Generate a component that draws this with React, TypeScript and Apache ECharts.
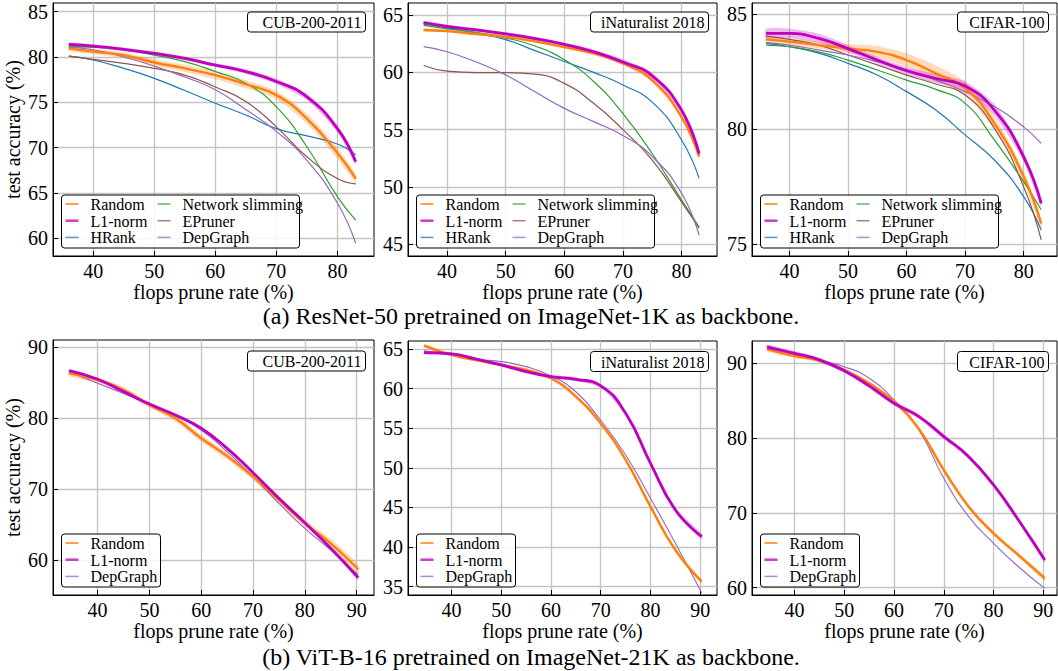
import React, { useEffect, useRef } from "react";
import * as echarts from "echarts";

const FONT = "'Liberation Serif', 'Times New Roman', Times, serif";

// ---------- data ----------
const X_RESNET = [36, 40, 45, 50, 55, 60, 65, 70, 75, 80, 83];
const X_VIT = [34.5, 40, 45, 50, 55, 60, 65, 70, 75, 80, 85, 90.3];

const X_TICKS_A = [40, 50, 60, 70, 80];
const X_TICKS_B = [40, 50, 60, 70, 80, 90];

const METHODS_A = ["HRank", "Network slimming", "EPruner", "DepGraph", "Random", "L1-norm"];
const METHODS_B = ["DepGraph", "Random", "L1-norm"];
const LEGEND_A = ["Random", "L1-norm", "HRank", "Network slimming", "EPruner", "DepGraph"];
const LEGEND_B = ["Random", "L1-norm", "DepGraph"];

// (a) ResNet-50, CUB-200-2011
const CUB_A_RANDOM = [80.96, 80.6, 80.2, 79.4, 78.75, 78.0, 77.0, 75.8, 73.2, 69.4, 66.6];
const CUB_A_L1 = [81.4, 81.2, 80.85, 80.4, 79.85, 79.1, 78.4, 77.3, 75.6, 72.1, 68.45];
const CUB_A_HRANK = [80.1, 79.67, 78.75, 77.65, 76.3, 74.9, 73.6, 72.1, 71.3, 70.4, 69.2];
const CUB_A_NETSLIM = [81.15, 81.1, 80.8, 80.2, 79.5, 78.4, 77.1, 74.5, 70.1, 64.6, 62.0];
const CUB_A_EPRUNER = [80.1, 79.75, 79.3, 78.75, 78.0, 76.7, 75.1, 72.3, 69.0, 66.6, 66.0];
const CUB_A_DEPGRAPH = [81.1, 80.8, 80.0, 79.0, 77.8, 76.4, 74.2, 71.8, 68.6, 63.9, 59.45];
const CUB_A_RANDOM_BAND = [0.3, 0.3, 0.3, 0.35, 0.4, 0.45, 0.45, 0.45, 0.55, 0.6, 0.45];
const CUB_A_L1_BAND = [0.2, 0.2, 0.2, 0.2, 0.2, 0.2, 0.25, 0.3, 0.35, 0.4, 0.3];

// (a) ResNet-50, iNaturalist 2018
const INAT_A_RANDOM = [63.7, 63.6, 63.35, 63.1, 62.7, 62.2, 61.65, 60.8, 59.3, 56.1, 52.65];
const INAT_A_L1 = [64.33, 64.0, 63.7, 63.35, 62.95, 62.45, 61.8, 60.9, 59.7, 56.7, 52.9];
const INAT_A_HRANK = [64.2, 63.9, 63.4, 62.85, 61.9, 60.95, 60.0, 58.9, 57.4, 54.1, 50.75];
const INAT_A_NETSLIM = [64.1, 63.8, 63.5, 63.0, 62.3, 61.1, 59.2, 56.4, 52.9, 48.87, 46.5];
const INAT_A_EPRUNER = [60.6, 60.1, 59.97, 59.97, 59.85, 59.04, 57.3, 55.0, 52.35, 48.7, 46.4];
const INAT_A_DEPGRAPH = [62.24, 61.8, 60.9, 59.77, 58.3, 56.86, 55.7, 54.5, 52.65, 49.45, 45.8];
const INAT_A_RANDOM_BAND = [0.12, 0.12, 0.12, 0.12, 0.12, 0.12, 0.15, 0.15, 0.15, 0.15, 0.15];
const INAT_A_L1_BAND = [0.15, 0.15, 0.15, 0.15, 0.15, 0.15, 0.2, 0.25, 0.25, 0.25, 0.2];

// (a) ResNet-50, CIFAR-100
const CIFAR_A_RANDOM = [83.9, 83.8, 83.65, 83.5, 83.36, 83.0, 82.42, 81.77, 80.25, 77.94, 75.9];
const CIFAR_A_L1 = [84.16, 84.16, 83.94, 83.5, 83.0, 82.54, 82.2, 81.87, 80.83, 78.8, 76.78];
const CIFAR_A_HRANK = [83.73, 83.58, 83.3, 82.86, 82.35, 81.63, 80.83, 79.75, 78.66, 77.07, 75.62];
const CIFAR_A_NETSLIM = [83.65, 83.58, 83.36, 83.0, 82.57, 82.13, 81.73, 81.12, 79.53, 77.72, 76.5];
const CIFAR_A_EPRUNER = [84.04, 83.9, 83.65, 83.22, 82.79, 82.35, 81.96, 81.48, 80.04, 77.5, 75.19];
const CIFAR_A_DEPGRAPH = [83.76, 83.65, 83.44, 83.22, 82.93, 82.57, 82.13, 81.63, 80.98, 80.1, 79.38];
const CIFAR_A_RANDOM_BAND = [0.15, 0.15, 0.15, 0.2, 0.25, 0.3, 0.35, 0.3, 0.3, 0.25, 0.2];
const CIFAR_A_L1_BAND = [0.2, 0.2, 0.2, 0.15, 0.15, 0.15, 0.2, 0.2, 0.25, 0.2, 0.15];

// (b) ViT-B-16, CUB-200-2011
const CUB_B_RANDOM = [86.33, 85.4, 84.0, 81.87, 79.99, 77.17, 74.67, 71.76, 68.47, 65.18, 62.36, 58.7];
const CUB_B_L1 = [86.7, 85.49, 83.75, 82.0, 80.46, 78.58, 75.75, 72.32, 68.7, 65.27, 61.65, 57.51];
const CUB_B_DEPGRAPH = [86.57, 84.92, 83.5, 82.0, 80.3, 78.34, 75.28, 71.76, 68.0, 64.47, 61.41, 57.9];
const CUB_B_RANDOM_BAND = [0.4, 0.4, 0.4, 0.4, 0.45, 0.5, 0.5, 0.5, 0.5, 0.5, 0.6, 0.7];
const CUB_B_L1_BAND = [0.2, 0.2, 0.2, 0.2, 0.2, 0.2, 0.2, 0.2, 0.2, 0.2, 0.25, 0.3];

// (b) ViT-B-16, iNaturalist 2018
const INAT_B_RANDOM = [65.42, 64.24, 63.6, 62.98, 62.35, 61.3, 58.98, 55.6, 51.0, 45.1, 39.63, 35.63];
const INAT_B_L1 = [64.54, 64.37, 63.7, 62.98, 62.14, 61.5, 61.17, 60.33, 56.88, 50.57, 44.68, 41.31];
const INAT_B_DEPGRAPH = [64.75, 64.24, 63.7, 63.4, 62.77, 61.6, 59.6, 56.0, 51.62, 46.15, 40.47, 34.2];
const INAT_B_RANDOM_BAND = [0.2, 0.2, 0.2, 0.2, 0.2, 0.2, 0.2, 0.2, 0.2, 0.2, 0.2, 0.25];
const INAT_B_L1_BAND = [0.2, 0.2, 0.2, 0.2, 0.2, 0.2, 0.25, 0.25, 0.25, 0.25, 0.3, 0.35];

// (b) ViT-B-16, CIFAR-100
const CIFAR_B_RANDOM = [91.87, 90.98, 90.36, 89.1, 87.32, 84.87, 81.2, 75.73, 70.83, 67.26, 64.36, 61.24];
const CIFAR_B_L1 = [92.14, 91.34, 90.45, 89.0, 86.97, 84.65, 82.87, 80.2, 77.52, 73.73, 69.05, 63.7];
const CIFAR_B_DEPGRAPH = [92.36, 91.25, 90.36, 89.55, 88.0, 85.1, 81.08, 74.62, 69.5, 65.93, 62.8, 59.9];
const CIFAR_B_RANDOM_BAND = [0.25, 0.25, 0.25, 0.25, 0.25, 0.25, 0.3, 0.3, 0.3, 0.3, 0.3, 0.35];
const CIFAR_B_L1_BAND = [0.3, 0.3, 0.3, 0.3, 0.3, 0.3, 0.3, 0.3, 0.3, 0.3, 0.3, 0.35];

const CAPTION_A = "(a) ResNet-50 pretrained on ImageNet-1K as backbone.";
const CAPTION_B = "(b) ViT-B-16 pretrained on ImageNet-21K as backbone.";
const X_NAME = "flops prune rate (%)";
const Y_NAME = "test accuracy (%)";

// ---------- styles ----------
const COLORS: Record<string, string> = {
  Random: "#ff7f0e",
  "L1-norm": "#bf00bf",
  HRank: "#1f77b4",
  "Network slimming": "#2ca02c",
  EPruner: "#8c564b",
  DepGraph: "#9467bd",
};
const WIDTHS: Record<string, number> = {
  Random: 2.4,
  "L1-norm": 2.8,
  HRank: 1.2,
  "Network slimming": 1.2,
  EPruner: 1.2,
  DepGraph: 1.2,
};

const PANELS = [
  {
    label: "CUB-200-2011", x: X_RESNET, methods: METHODS_A, legend: LEGEND_A, xTicks: X_TICKS_A,
    yTicks: [60, 65, 70, 75, 80, 85],
    values: { Random: CUB_A_RANDOM, "L1-norm": CUB_A_L1, HRank: CUB_A_HRANK, "Network slimming": CUB_A_NETSLIM, EPruner: CUB_A_EPRUNER, DepGraph: CUB_A_DEPGRAPH },
    bands: { Random: CUB_A_RANDOM_BAND, "L1-norm": CUB_A_L1_BAND },
    g: { left: 53, top: 3, width: 321, height: 253 }, xr: [33.4, 86.0], yr: [58.05, 85.96], yName: true,
    labelW: 118, labelTop: 9,
  },
  {
    label: "iNaturalist 2018", x: X_RESNET, methods: METHODS_A, legend: LEGEND_A, xTicks: X_TICKS_A,
    yTicks: [45, 50, 55, 60, 65],
    values: { Random: INAT_A_RANDOM, "L1-norm": INAT_A_L1, HRank: INAT_A_HRANK, "Network slimming": INAT_A_NETSLIM, EPruner: INAT_A_EPRUNER, DepGraph: INAT_A_DEPGRAPH },
    bands: { Random: INAT_A_RANDOM_BAND, "L1-norm": INAT_A_L1_BAND },
    g: { left: 408, top: 3, width: 309, height: 253 }, xr: [33.33, 86.05], yr: [43.98, 66.05], yName: false,
    labelW: 118, labelTop: 9,
  },
  {
    label: "CIFAR-100", x: X_RESNET, methods: METHODS_A, legend: LEGEND_A, xTicks: X_TICKS_A,
    yTicks: [75, 80, 85],
    values: { Random: CIFAR_A_RANDOM, "L1-norm": CIFAR_A_L1, HRank: CIFAR_A_HRANK, "Network slimming": CIFAR_A_NETSLIM, EPruner: CIFAR_A_EPRUNER, DepGraph: CIFAR_A_DEPGRAPH },
    bands: { Random: CIFAR_A_RANDOM_BAND, "L1-norm": CIFAR_A_L1_BAND },
    g: { left: 752, top: 3, width: 305, height: 253 }, xr: [33.6, 85.7], yr: [74.49, 85.48], yName: false,
    labelW: 91, labelTop: 9,
  },
  {
    label: "CUB-200-2011", x: X_VIT, methods: METHODS_B, legend: LEGEND_B, xTicks: X_TICKS_B,
    yTicks: [60, 70, 80, 90],
    values: { Random: CUB_B_RANDOM, "L1-norm": CUB_B_L1, DepGraph: CUB_B_DEPGRAPH },
    bands: { Random: CUB_B_RANDOM_BAND, "L1-norm": CUB_B_L1_BAND },
    g: { left: 53, top: 340, width: 321, height: 255 }, xr: [31.4, 93.35], yr: [55.07, 91.03], yName: true,
    labelW: 118, labelTop: 11,
  },
  {
    label: "iNaturalist 2018", x: X_VIT, methods: METHODS_B, legend: LEGEND_B, xTicks: X_TICKS_B,
    yTicks: [35, 40, 45, 50, 55, 60, 65],
    values: { Random: INAT_B_RANDOM, "L1-norm": INAT_B_L1, DepGraph: INAT_B_DEPGRAPH },
    bands: { Random: INAT_B_RANDOM_BAND, "L1-norm": INAT_B_L1_BAND },
    g: { left: 408, top: 341, width: 309, height: 254 }, xr: [31.27, 93.36], yr: [33.95, 66.0], yName: false,
    labelW: 118, labelTop: 10.5,
  },
  {
    label: "CIFAR-100", x: X_VIT, methods: METHODS_B, legend: LEGEND_B, xTicks: X_TICKS_B,
    yTicks: [60, 70, 80, 90],
    values: { Random: CIFAR_B_RANDOM, "L1-norm": CIFAR_B_L1, DepGraph: CIFAR_B_DEPGRAPH },
    bands: { Random: CIFAR_B_RANDOM_BAND, "L1-norm": CIFAR_B_L1_BAND },
    g: { left: 752, top: 341, width: 305, height: 254 }, xr: [31.45, 92.75], yr: [59.02, 92.98], yName: false,
    labelW: 91, labelTop: 10.5,
  },
];

function buildOption() {
  const grid: any[] = [];
  const xAxis: any[] = [];
  const yAxis: any[] = [];
  const series: any[] = [];
  const graphic: any[] = [];

  PANELS.forEach((p: any, i: number) => {
    grid.push({ ...p.g, show: true, borderColor: "#000", borderWidth: 1, backgroundColor: "#fff", containLabel: false });
    const common = {
      gridIndex: i,
      type: "value",
      axisLine: { show: true, lineStyle: { color: "#000", width: 1 } },
      splitLine: { show: true, lineStyle: { color: "#c4c4c4", width: 1.3 } },
    };
    xAxis.push({
      ...common,
      min: p.xr[0], max: p.xr[1],
      axisTick: { show: true, inside: true, length: 5, lineStyle: { color: "#000" }, customValues: p.xTicks },
      axisLabel: { customValues: p.xTicks, fontSize: 20, fontFamily: FONT, color: "#000", margin: 5 },
      name: X_NAME, nameLocation: "middle", nameGap: 26,
      nameTextStyle: { fontSize: 20, fontFamily: FONT, color: "#000" },
    });
    yAxis.push({
      ...common,
      min: p.yr[0], max: p.yr[1],
      axisTick: { show: true, inside: true, length: 5, lineStyle: { color: "#000" }, customValues: p.yTicks },
      axisLabel: { customValues: p.yTicks, fontSize: 20, fontFamily: FONT, color: "#000", margin: 5 },
      name: p.yName ? Y_NAME : "", nameLocation: "middle", nameGap: 30, nameRotate: 90,
      nameTextStyle: { fontSize: 20, fontFamily: FONT, color: "#000" },
    });

    // confidence bands (custom polygons built from the data through the axis scales)
    Object.keys(p.bands).forEach((m) => {
      const y = p.values[m];
      const hw = p.bands[m];
      const xs = p.x;
      series.push({
        type: "custom", xAxisIndex: i, yAxisIndex: i, silent: true, z: 1, clip: true,
        data: [[xs[0], y[0]]],
        renderItem: (_params: any, api: any) => {
          const up = xs.map((v: number, k: number) => api.coord([v, y[k] + hw[k]]));
          const lo = xs.map((v: number, k: number) => api.coord([v, y[k] - hw[k]])).reverse();
          return {
            type: "polygon",
            shape: { points: up.concat(lo), smooth: 0.25 },
            style: { fill: COLORS[m], opacity: 0.28 },
          };
        },
      });
    });

    // lines
    p.methods.forEach((m: string, k: number) => {
      const y = p.values[m];
      series.push({
        name: m, type: "line", xAxisIndex: i, yAxisIndex: i, smooth: 0.5, symbol: "none", z: 3 + k,
        lineStyle: { color: COLORS[m], width: i >= 3 && m === "DepGraph" ? 1.1 : WIDTHS[m] },
        data: p.x.map((v: number, j: number) => [v, y[j]]),
      });
    });

    // dataset label box
    const gR = p.g.left + p.g.width;
    const bx = Math.min(gR, 1057) - 8.5 - p.labelW;
    const by = p.g.top + p.labelTop;
    graphic.push({
      type: "rect", z: 100,
      shape: { x: bx, y: by, width: p.labelW, height: 20, r: 3 },
      style: { fill: "#fff", stroke: "#000", lineWidth: 1 },
    });
    graphic.push({
      type: "text", z: 101, x: bx + p.labelW - 4, y: by + 10.5,
      style: { text: p.label, fontSize: 16, fontFamily: FONT, fill: "#000", align: "right", verticalAlign: "middle" },
    });

    // legend box
    const gB = p.g.top + p.g.height;
    const lx = p.g.left + 8.5;
    const two = p.legend.length > 3;
    const lw = two ? 238 : 99;
    const ly = gB - 61;
    graphic.push({
      type: "rect", z: 100,
      shape: { x: lx, y: ly, width: lw, height: 53, r: 3 },
      style: { fill: "rgba(255,255,255,0.85)", stroke: "#000", lineWidth: 1 },
    });
    p.legend.forEach((m: string, k: number) => {
      const col = two ? Math.floor(k / 3) : 0;
      const row = two ? k % 3 : k;
      const cx = lx + (col === 0 ? 0 : 92);
      const cy = ly + 9 + row * 16.7;
      graphic.push({
        type: "line", z: 101,
        shape: { x1: cx + 4, y1: cy, x2: cx + 17, y2: cy },
        style: { stroke: COLORS[m], lineWidth: m === "L1-norm" ? 2.6 : m === "Random" ? 2 : 1.5, opacity: 0.75 },
      });
      graphic.push({
        type: "text", z: 101, x: cx + 29, y: cy + 0.5,
        style: { text: m, fontSize: 16, fontFamily: FONT, fill: "#000", align: "left", verticalAlign: "middle" },
      });
    });
  });

  graphic.push({
    type: "text", z: 101, x: 531, y: 316,
    style: { text: CAPTION_A, fontSize: 24, fontFamily: FONT, fill: "#000", align: "center", verticalAlign: "middle" },
  });
  graphic.push({
    type: "text", z: 101, x: 531, y: 657,
    style: { text: CAPTION_B, fontSize: 24, fontFamily: FONT, fill: "#000", align: "center", verticalAlign: "middle" },
  });

  return { animation: false, backgroundColor: "#fff", grid, xAxis, yAxis, series, graphic };
}

export default function App() {
  const ref = useRef<HTMLDivElement>(null);
  useEffect(() => {
    const chart = echarts.init(ref.current!, null, { renderer: "svg" });
    chart.setOption(buildOption() as any);
    return () => chart.dispose();
  }, []);
  return (
    <div
      ref={ref}
      style={{ position: "absolute", left: 0, top: 0, width: 1058, height: 671, background: "#fff" }}
    />
  );
}
